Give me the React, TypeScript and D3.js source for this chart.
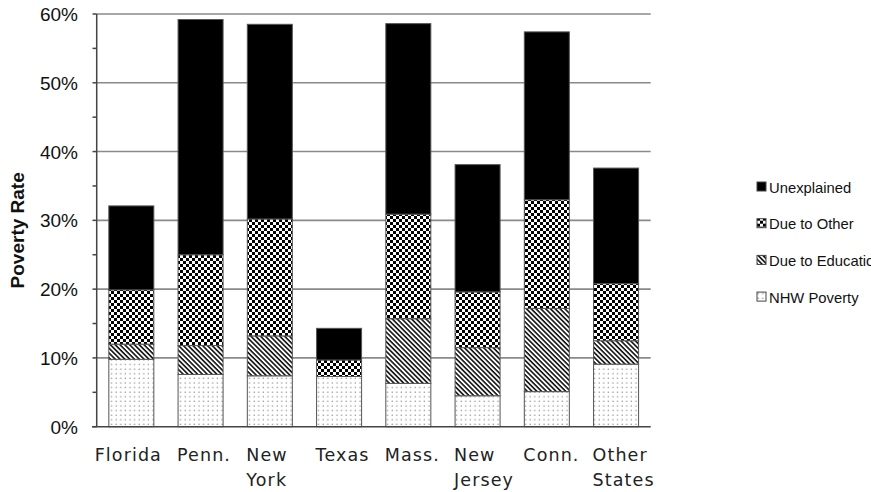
import React from "react";
import * as d3 from "d3";

const categories: string[][] = [
  ["Florida"], ["Penn."], ["New", "York"], ["Texas"], ["Mass."], ["New", "Jersey"], ["Conn."], ["Other", "States"],
];
const nhwPoverty = [9.8, 7.6, 7.4, 7.3, 6.3, 4.5, 5.1, 9.1];
const dueToEducation = [2.2, 4.2, 5.8, 0.0, 9.4, 7.0, 12.1, 3.4];
const dueToOther = [7.9, 13.2, 17.0, 2.4, 15.2, 8.1, 15.8, 8.3];
const unexplained = [12.2, 34.2, 28.3, 4.6, 27.7, 18.5, 24.4, 16.8];
const seriesKeys = ["nhw", "edu", "other", "unexp"];
const seriesNames = ["NHW Poverty", "Due to Education", "Due to Other", "Unexplained"];
const seriesFills = ["url(#dots)", "url(#hatch)", "url(#checker)", "#000"];
const yTicks = [0, 10, 20, 30, 40, 50, 60];
const yMinorTicks = [0, 5, 10, 15, 20, 25, 30, 35, 40, 45, 50, 55, 60];

const W = 871, H = 492;
const left = 96.7, right = 650.7, top = 14, bottom = 426.7;

export default function App() {
  const rows = categories.map((c, i) => ({
    i,
    nhw: nhwPoverty[i],
    edu: dueToEducation[i],
    other: dueToOther[i],
    unexp: unexplained[i],
  }));
  const stack = d3.stack<any>().keys(seriesKeys)(rows);
  const x = d3.scaleBand<number>().domain(rows.map((r) => r.i)).range([left, right]).paddingInner(0.35).paddingOuter(0.175);
  const y = d3.scaleLinear().domain([0, 60]).range([bottom, top]);
  const legendOrder = [3, 2, 1, 0];
  const labelX = (i: number) => (i === 0 ? x(i)! + x.bandwidth() / 2 - 3 : x(i)! - 1);

  return (
    <svg width={W} height={H} style={{ position: "absolute", left: 0, top: 0, background: "#fff" }}>
      <defs>
        <pattern id="checker" width={6} height={6} patternUnits="userSpaceOnUse">
          <rect width={6} height={6} fill="#fff" />
          <rect x={0} y={0} width={3} height={3} fill="#000" />
          <rect x={3} y={3} width={3} height={3} fill="#000" />
        </pattern>
        <pattern id="hatch" width={3.4} height={3.4} patternUnits="userSpaceOnUse" patternTransform="rotate(-45)">
          <rect width={3.4} height={3.4} fill="#fff" />
          <line x1={0.9} y1={0} x2={0.9} y2={3.4} stroke="#111" strokeWidth={1.6} />
        </pattern>
        <pattern id="dots" width={4.6} height={4.6} patternUnits="userSpaceOnUse">
          <rect width={4.6} height={4.6} fill="#fff" />
          <circle cx={1.2} cy={1.2} r={0.75} fill="#888" />
        </pattern>
      </defs>

      {yTicks.filter((t) => t > 0).map((t) => (
        <line key={"g" + t} x1={left} x2={right} y1={y(t)} y2={y(t)} stroke="#8a8a8a" strokeWidth={1.6} />
      ))}

      {stack.map((s, si) => (
        <g key={s.key}>
          {s.map((d, j) =>
            d[1] - d[0] > 0 ? (
              <rect
                key={j}
                x={x(j)!}
                y={y(d[1])}
                width={x.bandwidth()}
                height={y(d[0]) - y(d[1])}
                fill={seriesFills[si]}
                stroke="#555"
                strokeWidth={1}
              />
            ) : null
          )}
        </g>
      ))}

      <line x1={left} x2={left} y1={top} y2={bottom} stroke="#444" strokeWidth={1.5} />
      <line x1={92} x2={right} y1={bottom} y2={bottom} stroke="#444" strokeWidth={1.5} />
      {yMinorTicks.map((t) => (
        <line key={"t" + t} x1={92.5} x2={left} y1={y(t)} y2={y(t)} stroke="#444" strokeWidth={1.5} />
      ))}
      {yTicks.map((t) => (
        <text key={"l" + t} x={78} y={y(t) + 7} textAnchor="end" fontFamily="Liberation Sans, Arial, sans-serif" fontSize={19} fill="#111">
          {t}%
        </text>
      ))}
      <text
        transform={`translate(24,${(top + bottom) / 2 + 10}) rotate(-90)`}
        textAnchor="middle"
        fontFamily="Liberation Sans, Arial, sans-serif"
        fontWeight="bold"
        fontSize={19}
        fill="#111"
      >
        Poverty Rate
      </text>

      {categories.map((lines, i) => (
        <text
          key={"c" + i}
          x={labelX(i)}
          textAnchor={i === 0 ? "middle" : "start"}
          fontFamily="DejaVu Sans, sans-serif"
          fontSize={17.5}
          letterSpacing={1.1}
          fill="#222"
        >
          {lines.map((ln, k) => (
            <tspan key={k} x={labelX(i)} y={461 + k * 25}>
              {ln}
            </tspan>
          ))}
        </text>
      ))}

      {legendOrder.map((si, k) => (
        <g key={"lg" + si} transform={`translate(757,${187 + k * 36.7})`}>
          <rect x={0} y={-5} width={9} height={9} fill={seriesFills[si]} stroke="#444" strokeWidth={1} />
          <text x={12} y={5.5} fontFamily="Liberation Sans, Arial, sans-serif" fontSize={14.8} fill="#111">
            {seriesNames[si]}
          </text>
        </g>
      ))}
    </svg>
  );
}
